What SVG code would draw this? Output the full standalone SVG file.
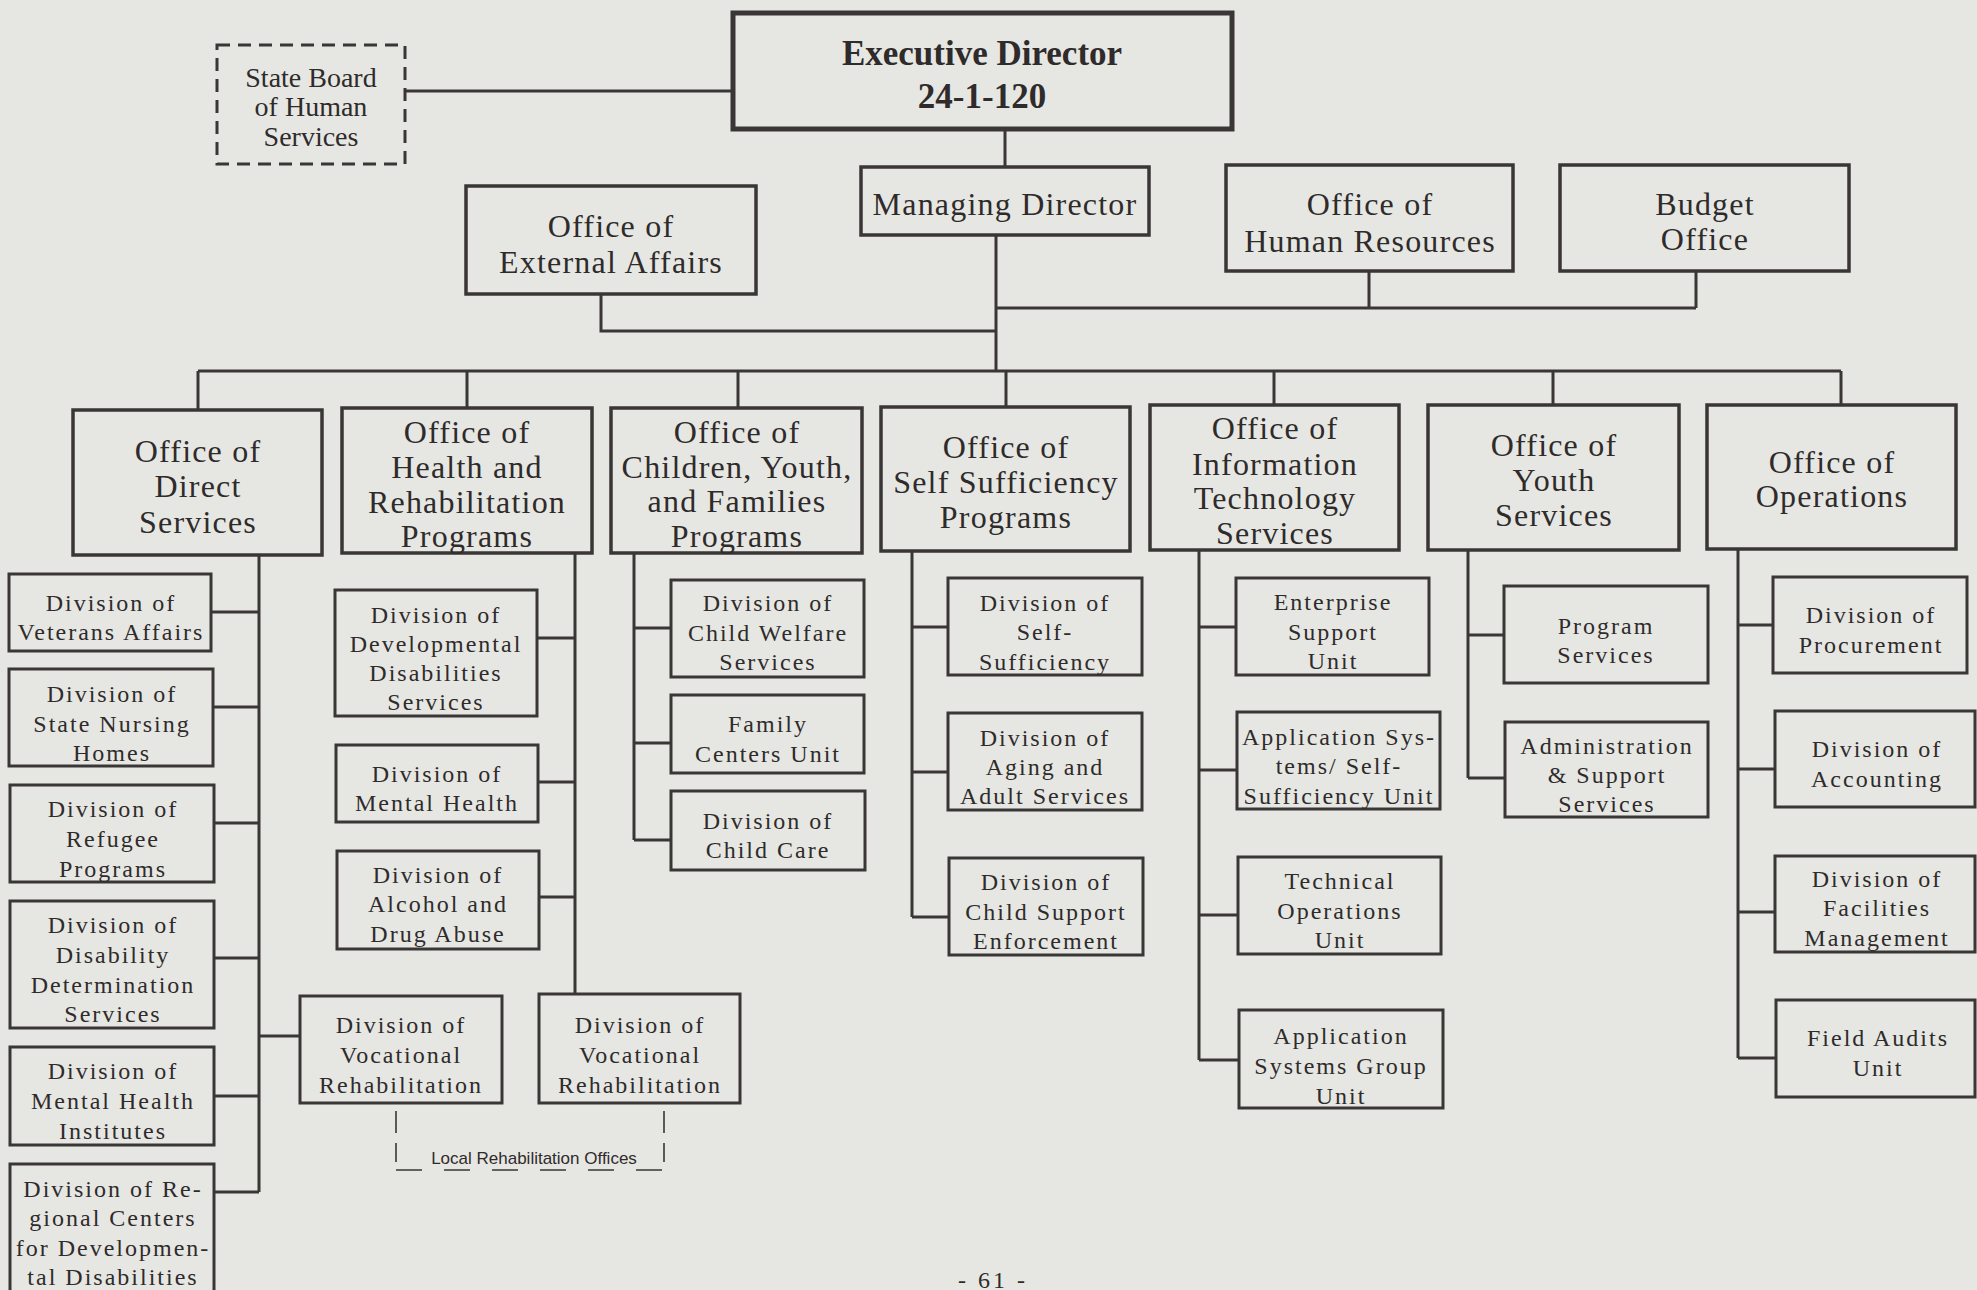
<svg xmlns="http://www.w3.org/2000/svg" width="1977" height="1290" viewBox="0 0 1977 1290">
<style>
.bg{fill:#e6e7e3}
.box{fill:none;stroke:#3a3636;stroke-width:3}
.obox{fill:none;stroke:#3a3636;stroke-width:3.5}
.ebox{fill:none;stroke:#3a3636;stroke-width:5}
.dbox{fill:none;stroke:#3a3636;stroke-width:3;stroke-dasharray:13 8}
.con path{fill:none;stroke:#3a3636;stroke-width:3}
.br{fill:none;stroke:#3a3636;stroke-width:1.6}
text{fill:#2f2b2b;text-anchor:middle;font-family:"Liberation Serif","Times New Roman",serif}
.t1{font-size:32px;letter-spacing:1.2px}
.t2{font-size:24px;letter-spacing:2px}
.tx{font-size:35px;font-weight:bold}
.ts{font-size:28px}
.tp{font-size:24px;letter-spacing:3px}
.tl{font-size:17px;font-family:"Liberation Sans",Arial,sans-serif;letter-spacing:0}
</style>
<rect class="bg" x="0" y="0" width="1977" height="1290"/>

<g id="connectors" class="con">
<path d="M405,91H733"/>
<path d="M1005,129V167"/>
<path d="M996,235V371"/>
<path d="M1369,271V308M1696,271V308M996,308H1696"/>
<path d="M601,294V331H996"/>
<path d="M198,371H1841"/>
<path d="M198,371V410M467,371V408M738,371V408M1006,371V407M1274,371V405M1553,371V405M1841,371V405"/>
<path d="M259,555V1192"/>
<path d="M211,612H259M213,707H259M214,823H259M214,958H259M214,1096H259M214,1192H259M259,1036H300"/>
<path d="M575,553V994"/>
<path d="M537,638H575M538,782H575M539,897H575"/>
<path d="M634,553V840"/>
<path d="M634,628H671M634,743H671M634,840H671"/>
<path d="M912,551V917"/>
<path d="M912,627H948M912,772H948M912,917H949"/>
<path d="M1199,550V1060"/>
<path d="M1199,627H1236M1199,770H1237M1199,915H1238M1199,1060H1239"/>
<path d="M1468,550V778"/>
<path d="M1468,635H1504M1468,778H1505"/>
<path d="M1738,549V1058"/>
<path d="M1738,625H1773M1738,769H1775M1738,912H1775M1738,1058H1776"/>
</g>

<g id="executive-director">
<rect class="ebox" x="733" y="13" width="499" height="116"/>
<text class="tx" x="982" y="65">Executive Director</text>
<text class="tx" x="982" y="108">24-1-120</text>
</g>

<g id="state-board">
<rect class="dbox" x="217" y="45" width="188" height="119"/>
<text class="ts" x="311" y="87">State Board</text>
<text class="ts" x="311" y="116">of Human</text>
<text class="ts" x="311" y="146">Services</text>
</g>

<g id="managing-director">
<rect class="obox" x="861" y="167" width="288" height="68"/>
<text class="t1" x="1005" y="215">Managing Director</text>
</g>

<g id="human-resources">
<rect class="obox" x="1226" y="165" width="287" height="106"/>
<text class="t1" x="1370" y="215">Office of</text>
<text class="t1" x="1370" y="252">Human Resources</text>
</g>

<g id="budget-office">
<rect class="obox" x="1560" y="165" width="289" height="106"/>
<text class="t1" x="1705" y="215">Budget</text>
<text class="t1" x="1705" y="250">Office</text>
</g>

<g id="external-affairs">
<rect class="obox" x="466" y="186" width="290" height="108"/>
<text class="t1" x="611" y="237">Office of</text>
<text class="t1" x="611" y="273">External Affairs</text>
</g>

<g id="direct-services">
<rect class="obox" x="73" y="410" width="249" height="145"/>
<text class="t1" x="198" y="462">Office of</text>
<text class="t1" x="198" y="497">Direct</text>
<text class="t1" x="198" y="533">Services</text>
</g>

<g id="health-rehab">
<rect class="obox" x="342" y="408" width="250" height="145"/>
<text class="t1" x="467" y="443">Office of</text>
<text class="t1" x="467" y="478">Health and</text>
<text class="t1" x="467" y="513">Rehabilitation</text>
<text class="t1" x="467" y="547">Programs</text>
</g>

<g id="children-youth-families">
<rect class="obox" x="611" y="408" width="251" height="145"/>
<text class="t1" x="737" y="443">Office of</text>
<text class="t1" x="737" y="478">Children, Youth,</text>
<text class="t1" x="737" y="512">and Families</text>
<text class="t1" x="737" y="547">Programs</text>
</g>

<g id="self-sufficiency">
<rect class="obox" x="881" y="407" width="249" height="144"/>
<text class="t1" x="1006" y="458">Office of</text>
<text class="t1" x="1006" y="493">Self Sufficiency</text>
<text class="t1" x="1006" y="528">Programs</text>
</g>

<g id="information-technology">
<rect class="obox" x="1150" y="405" width="249" height="145"/>
<text class="t1" x="1275" y="439">Office of</text>
<text class="t1" x="1275" y="475">Information</text>
<text class="t1" x="1275" y="509">Technology</text>
<text class="t1" x="1275" y="544">Services</text>
</g>

<g id="youth-services">
<rect class="obox" x="1428" y="405" width="251" height="145"/>
<text class="t1" x="1554" y="456">Office of</text>
<text class="t1" x="1554" y="491">Youth</text>
<text class="t1" x="1554" y="526">Services</text>
</g>

<g id="operations">
<rect class="obox" x="1707" y="405" width="249" height="144"/>
<text class="t1" x="1832" y="473">Office of</text>
<text class="t1" x="1832" y="507">Operations</text>
</g>

<g id="veterans-affairs">
<rect class="box" x="9" y="574" width="202" height="77"/>
<text class="t2" x="111" y="611">Division of</text>
<text class="t2" x="111" y="640">Veterans Affairs</text>
</g>
<g id="state-nursing-homes">
<rect class="box" x="9" y="669" width="204" height="97"/>
<text class="t2" x="112" y="702">Division of</text>
<text class="t2" x="112" y="732">State Nursing</text>
<text class="t2" x="112" y="761">Homes</text>
</g>
<g id="refugee-programs">
<rect class="box" x="10" y="785" width="204" height="97"/>
<text class="t2" x="113" y="817">Division of</text>
<text class="t2" x="113" y="847">Refugee</text>
<text class="t2" x="113" y="877">Programs</text>
</g>
<g id="disability-determination">
<rect class="box" x="10" y="901" width="204" height="127"/>
<text class="t2" x="113" y="933">Division of</text>
<text class="t2" x="113" y="963">Disability</text>
<text class="t2" x="113" y="993">Determination</text>
<text class="t2" x="113" y="1022">Services</text>
</g>
<g id="mental-health-institutes">
<rect class="box" x="10" y="1047" width="204" height="98"/>
<text class="t2" x="113" y="1079">Division of</text>
<text class="t2" x="113" y="1109">Mental Health</text>
<text class="t2" x="113" y="1139">Institutes</text>
</g>
<g id="regional-centers">
<rect class="box" x="10" y="1164" width="204" height="140"/>
<text class="t2" x="113" y="1197">Division of Re-</text>
<text class="t2" x="113" y="1226">gional Centers</text>
<text class="t2" x="113" y="1256">for Developmen-</text>
<text class="t2" x="113" y="1285">tal Disabilities</text>
</g>
<g id="vocational-rehab-1">
<rect class="box" x="300" y="996" width="202" height="107"/>
<text class="t2" x="401" y="1033">Division of</text>
<text class="t2" x="401" y="1063">Vocational</text>
<text class="t2" x="401" y="1093">Rehabilitation</text>
</g>
<g id="vocational-rehab-2">
<rect class="box" x="539" y="994" width="201" height="109"/>
<text class="t2" x="640" y="1033">Division of</text>
<text class="t2" x="640" y="1063">Vocational</text>
<text class="t2" x="640" y="1093">Rehabilitation</text>
</g>
<g id="local-rehab-offices">
<path class="br" d="M396,1111V1162M664,1111V1162" stroke-dasharray="22 10"/>
<path class="br" d="M396,1170H664" stroke-dasharray="26 22"/>
<text class="tl" x="534" y="1164">Local Rehabilitation Offices</text>
</g>
<g id="developmental-disabilities">
<rect class="box" x="335" y="590" width="202" height="126"/>
<text class="t2" x="436" y="623">Division of</text>
<text class="t2" x="436" y="652">Developmental</text>
<text class="t2" x="436" y="681">Disabilities</text>
<text class="t2" x="436" y="710">Services</text>
</g>
<g id="mental-health">
<rect class="box" x="336" y="745" width="202" height="77"/>
<text class="t2" x="437" y="782">Division of</text>
<text class="t2" x="437" y="811">Mental Health</text>
</g>
<g id="alcohol-drug-abuse">
<rect class="box" x="337" y="851" width="202" height="98"/>
<text class="t2" x="438" y="883">Division of</text>
<text class="t2" x="438" y="912">Alcohol and</text>
<text class="t2" x="438" y="942">Drug Abuse</text>
</g>
<g id="child-welfare">
<rect class="box" x="671" y="580" width="193" height="97"/>
<text class="t2" x="768" y="611">Division of</text>
<text class="t2" x="768" y="641">Child Welfare</text>
<text class="t2" x="768" y="670">Services</text>
</g>
<g id="family-centers">
<rect class="box" x="671" y="695" width="193" height="78"/>
<text class="t2" x="768" y="732">Family</text>
<text class="t2" x="768" y="762">Centers Unit</text>
</g>
<g id="child-care">
<rect class="box" x="671" y="791" width="194" height="79"/>
<text class="t2" x="768" y="829">Division of</text>
<text class="t2" x="768" y="858">Child Care</text>
</g>
<g id="self-sufficiency-division">
<rect class="box" x="948" y="578" width="194" height="97"/>
<text class="t2" x="1045" y="611">Division of</text>
<text class="t2" x="1045" y="640">Self-</text>
<text class="t2" x="1045" y="670">Sufficiency</text>
</g>
<g id="aging-adult">
<rect class="box" x="948" y="713" width="194" height="97"/>
<text class="t2" x="1045" y="746">Division of</text>
<text class="t2" x="1045" y="775">Aging and</text>
<text class="t2" x="1045" y="804">Adult Services</text>
</g>
<g id="child-support">
<rect class="box" x="949" y="858" width="194" height="97"/>
<text class="t2" x="1046" y="890">Division of</text>
<text class="t2" x="1046" y="920">Child Support</text>
<text class="t2" x="1046" y="949">Enforcement</text>
</g>
<g id="enterprise-support">
<rect class="box" x="1236" y="578" width="193" height="97"/>
<text class="t2" x="1333" y="610">Enterprise</text>
<text class="t2" x="1333" y="640">Support</text>
<text class="t2" x="1333" y="669">Unit</text>
</g>
<g id="app-systems-self">
<rect class="box" x="1237" y="712" width="203" height="97"/>
<text class="t2" x="1339" y="745">Application Sys-</text>
<text class="t2" x="1339" y="774">tems/ Self-</text>
<text class="t2" x="1339" y="804">Sufficiency Unit</text>
</g>
<g id="technical-operations">
<rect class="box" x="1238" y="857" width="203" height="97"/>
<text class="t2" x="1340" y="889">Technical</text>
<text class="t2" x="1340" y="919">Operations</text>
<text class="t2" x="1340" y="948">Unit</text>
</g>
<g id="app-systems-group">
<rect class="box" x="1239" y="1010" width="204" height="98"/>
<text class="t2" x="1341" y="1044">Application</text>
<text class="t2" x="1341" y="1074">Systems Group</text>
<text class="t2" x="1341" y="1104">Unit</text>
</g>
<g id="program-services">
<rect class="box" x="1504" y="586" width="204" height="97"/>
<text class="t2" x="1606" y="634">Program</text>
<text class="t2" x="1606" y="663">Services</text>
</g>
<g id="admin-support">
<rect class="box" x="1505" y="722" width="203" height="95"/>
<text class="t2" x="1607" y="754">Administration</text>
<text class="t2" x="1607" y="783">&amp; Support</text>
<text class="t2" x="1607" y="812">Services</text>
</g>
<g id="procurement">
<rect class="box" x="1773" y="577" width="194" height="96"/>
<text class="t2" x="1871" y="623">Division of</text>
<text class="t2" x="1871" y="653">Procurement</text>
</g>
<g id="accounting">
<rect class="box" x="1775" y="711" width="200" height="96"/>
<text class="t2" x="1877" y="757">Division of</text>
<text class="t2" x="1877" y="787">Accounting</text>
</g>
<g id="facilities">
<rect class="box" x="1775" y="856" width="200" height="96"/>
<text class="t2" x="1877" y="887">Division of</text>
<text class="t2" x="1877" y="916">Facilities</text>
<text class="t2" x="1877" y="946">Management</text>
</g>
<g id="field-audits">
<rect class="box" x="1776" y="1000" width="199" height="97"/>
<text class="t2" x="1878" y="1046">Field Audits</text>
<text class="t2" x="1878" y="1076">Unit</text>
</g>

<text class="tp" x="993" y="1288">- 61 -</text>
</svg>
